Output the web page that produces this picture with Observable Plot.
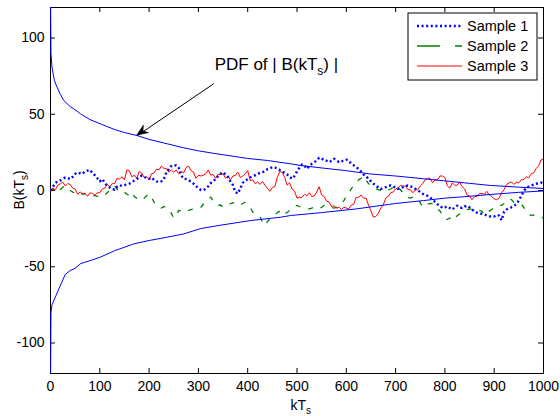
<!DOCTYPE html>
<html><head><meta charset="utf-8">
<script src="https://cdn.jsdelivr.net/npm/d3@7"></script>
<script src="https://cdn.jsdelivr.net/npm/@observablehq/plot@0.6"></script>
<style>body{margin:0;background:#fff}#chart{width:560px;height:416px}</style>
</head><body><div id="chart"></div>
<script>
// sample spacing in k (samples listed at k = 0, 5, 10, ... 1000)
const step = 5;
const sample1 = [0,2.5,5,6,6.6,7.5,8.5,8.2,7.5,9,11,10.5,11.5,11,12.5,13,13.5,11.5,10,8,6,7.5,5,3,2,1,0.5,2.5,3.5,3,3.5,4,4.5,5.5,6.5,7.5,8.5,9.8,9,8,7.7,8.5,7,6,5.4,6,7.5,12,14,16,16.8,16.4,15,10,7.7,7.5,6.8,5.8,4.5,2.8,1.8,0.3,0.2,1.2,2.8,4.8,6.2,7.5,9.5,11,12,10.5,9,6,3.5,-1,-2,1.5,5,6.5,7.5,8.5,9.5,10,11,11.5,12,12.5,14,14.5,15.3,15,14.5,13.5,12.5,11.5,10.5,9,7.7,9.5,12.5,15,17,16.5,14.2,16,17.5,18.5,19.7,21.5,21,19.7,19.5,18.6,19.5,20.8,20,18.6,19,19.7,20.2,19.5,17.5,16.5,15.5,14,12.5,10.5,9.5,7.5,6,4.5,3.2,2,1,1.8,2.2,3,3.3,2.6,2,1,1.6,2.2,2.8,3.3,2.8,2.2,1.2,0.2,-1,-2.2,-3,-3.5,-4.5,-6,-7.5,-9,-10,-11.5,-11,-10.5,-11.5,-12.5,-11,-10,-11,-11.5,-10.5,-10,-11,-12.5,-13.5,-14.5,-15,-15.3,-15.8,-16.4,-17,-16.8,-17,-16,-16.5,-19.5,-14,-12.5,-11.5,-11,-10,-9,-6.5,-3.5,-0.5,1.8,2.6,3.2,3.8,4.4,4.6,5.2,4.5];
const sample2 = [0,1,-1,-1.5,0.5,2.2,3,1,0,-1,-1.5,-0.5,-1.5,-2.5,-2,-2.5,-3,-3.5,-3.3,-3.8,-4,-4.4,-3,-1.5,0,1.5,3,1,-1,-0.5,-1,-2.5,-3,-1,-4,-5,-5.5,-6.5,-5,-3.5,-2.2,-4.5,-7.7,-10,-11,-11.5,-10.5,-11,-12,-15,-18,-17,-13,-13.5,-14.2,-14,-13,-12.5,-12,-11.5,-11.5,-11,-9,-7.5,-5.5,-4.4,-7,-9,-9.8,-9.5,-11,-10.5,-9.8,-8.7,-8,-8.7,-9.5,-9.8,-8.5,-7.7,-9,-11,-14,-15.3,-16,-17,-21,-23,-20.5,-18.5,-17.5,-16,-14.5,-13.5,-12.5,-15,-14.5,-13,-11.5,-10.5,-9.8,-10.5,-11,-11.5,-12,-12,-11.5,-11,-11.5,-12,-11,-9.8,-10.5,-11,-11,-11.5,-11,-10.5,-8.5,-6.6,-4,-1.5,1,3.5,5,7,8,9.5,7,4.5,3,2,1.1,0.5,0,0.8,1,0.3,1,2,3.3,2,0.5,-1.5,-3,-4.5,-5,-4.4,-4.4,-5.5,-8,-11,-10,-9,-8.5,-8.7,-10,-12,-13.5,-16,-18.5,-19,-18,-19.7,-18,-16.5,-15.3,-14,-13,-12.5,-12,-12.5,-12,-12.5,-13,-13.5,-16,-15,-13.5,-12.5,-11,-10.5,-9.8,-9.8,-8.5,-7,-5.4,-6,-7.7,-8,-8.7,-9,-11,-14,-15.5,-16.4,-16,-16.4,-17,-17.5,-18];
const sample3 = [0,1.5,0.5,3.5,4.4,5.5,3,4.5,4,1.5,1,-2.5,-1,-2,-2,-3.8,-1.5,-2,-3,-1.5,-1.5,1,1.5,4,2.5,4.5,4.5,8,7.5,9,7,13.5,13,9,10,8,12.5,11.5,8.5,9,7,11,11.5,14,13.5,16,14.5,14.5,12,13.5,12,13.5,11,12.5,11.5,15,16,13,12,8,10,9.5,10,11,13.5,10,10.5,8,10.5,10.5,11,8,9.5,7,9.5,10,12,8.5,9.5,11,13,6.5,7,4.5,5.5,4,6,3.5,1.5,-0.5,2,2.5,8.5,12.5,12,8.5,3.5,5,1,-0.5,-5,-4.5,-4.5,-2.5,-3.5,-1.5,-4,-3.5,-1,2.5,-3,-4,-7,-7.5,-10.5,-10,-11.5,-11,-12.5,-11,-11.5,-12,-9.5,-9,-4.5,-4.5,-3,-5,-5,-9.5,-13.5,-17.5,-17,-15,-11.5,-9.5,-5,-4,-1.5,-1,1,1.8,3.3,2.8,3,0.5,0.5,-1.5,0.3,0.5,3,4.5,7,8,8,5,7,7,9.5,9.5,8.5,3,1.5,5,3.5,3.5,5.5,2.5,1,-3,-3.5,-6,-4,-4,-2,-2,-2.5,-0.5,-3,-4,-5.5,-6,-5,-1.5,0.5,4,5,5.5,4,5.5,5,7,7.2,9,8.3,11,11.5,14.5,16,20,20.8];

// envelope of the PDF of |B(kT_s)|
const envUpperK = [0,1,3,8,13,20,27,40,47,61,80,101,130,150,176,200,237,270,300,338,370,400,440,487,507,550,600,622,650,700,757,800,850,892,950,1000];
const envUpperV = [130,90,81,72,68,63,59,55,53.6,50.3,46.5,43.7,40,38,36,33.5,30.6,28,26,24,22.5,21,19.7,17.5,16.4,14.8,13,12,10.8,9.5,7.7,6.3,4.7,3.3,2.2,1.3];
const envLowerK = [0,1,3,7,17,30,40,50,61,80,101,130,169,200,237,270,304,340,406,467,487,550,622,700,757,800,850,892,950,1000];
const envLowerV = [-130,-80,-75,-72,-64.5,-55,-52.5,-51,-48,-46,-43.7,-39.5,-35,-32.8,-30.6,-28.5,-25,-23,-19.7,-17.5,-16.4,-14.5,-12,-8.5,-6.6,-5,-3.8,-2.6,-1.2,-0.3];

const seriesNames = ["Sample 1", "Sample 2", "Sample 3"];
const seriesColors = ["#0000ff", "#008000", "#ff0000"];
const xTicks = [0,100,200,300,400,500,600,700,800,900,1000];
const yTicks = [-100,-50,0,50,100];
const annoArrow = [{k1: 331, v1: 70, k2: 176, v2: 36}];
const annoTextPos = {k: 334, v: 79};

const rows = (arr) => arr.map((v, i) => ({k: i * step, v}));
const pairRows = (ks, vs) => ks.map((k, i) => ({k, v: vs[i]}));

const W = 560, H = 416, mL = 50, mR = 17, mT = 7, mB = 43;
const fW = W - mL - mR, fH = H - mT - mB, tl = 5;
const font = "'Liberation Sans', Arial, Helvetica, sans-serif";

const plot = Plot.plot({
  width: W, height: H,
  marginLeft: mL, marginRight: mR, marginTop: mT, marginBottom: mB,
  style: {fontFamily: font, fontSize: "14px", background: "white", color: "black", overflow: "visible"},
  x: {domain: [0, 1000]},
  y: {domain: [-120, 120]},
  marks: [
    Plot.frame({stroke: "black", strokeWidth: 1}),
    Plot.tickX(xTicks, {x: d => d, insetTop: fH - tl, stroke: "black"}),
    Plot.tickX(xTicks, {x: d => d, insetBottom: fH - tl, stroke: "black"}),
    Plot.tickY(yTicks, {y: d => d, insetRight: fW - tl, stroke: "black"}),
    Plot.tickY(yTicks, {y: d => d, insetLeft: fW - tl, stroke: "black"}),
    Plot.line(rows(sample2), {x: "k", y: "v", stroke: seriesColors[1], strokeWidth: 1.3, strokeDasharray: "5,8", strokeLinecap: "butt", clip: true}),
    Plot.line(rows(sample3), {x: "k", y: "v", stroke: seriesColors[2], strokeWidth: 1, clip: true}),
    Plot.line(rows(sample1), {x: "k", y: "v", stroke: seriesColors[0], strokeWidth: 2.4, strokeDasharray: "2,2.6", strokeLinecap: "butt", clip: true}),
    Plot.line(pairRows(envUpperK, envUpperV), {x: "k", y: "v", stroke: "#0000ff", strokeWidth: 1, clip: true}),
    Plot.line(pairRows(envLowerK, envLowerV), {x: "k", y: "v", stroke: "#0000ff", strokeWidth: 1, clip: true}),
    Plot.axisX(xTicks, {tickSize: 0, tickPadding: 8, label: null, tickFormat: d => String(d), fontSize: 14}),
    Plot.axisY(yTicks, {tickSize: 0, tickPadding: 6, label: null, tickFormat: d => String(d), fontSize: 14}),
    Plot.link(annoArrow, {x1: "k1", y1: "v1", x2: "k2", y2: "v2", stroke: "black", strokeWidth: 1})
  ]
});
document.getElementById("chart").appendChild(plot);

const svg = d3.select(plot);
const sx = plot.scale("x"), sy = plot.scale("y");

// filled arrowhead at the annotation tip
{
  const a = annoArrow[0];
  const x1 = sx.apply(a.k1), y1 = sy.apply(a.v1), x2 = sx.apply(a.k2), y2 = sy.apply(a.v2);
  const ang = Math.atan2(y2 - y1, x2 - x1);
  const L = 11, Wd = 4.5, back = 7.5;
  const ux = Math.cos(ang), uy = Math.sin(ang), px = -uy, py = ux;
  const bx = x2 - ux * L, by = y2 - uy * L;
  const mx = x2 - ux * back, my = y2 - uy * back;
  svg.append("path")
    .attr("d", `M${x2},${y2}L${bx + px * Wd},${by + py * Wd}L${mx},${my}L${bx - px * Wd},${by - py * Wd}Z`)
    .attr("fill", "black").attr("stroke", "black").attr("stroke-width", 0.6);
}

// annotation text
const at = svg.append("text")
  .attr("x", sx.apply(annoTextPos.k)).attr("y", sy.apply(annoTextPos.v))
  .attr("text-anchor", "start")
  .attr("font-family", font).attr("font-size", 17).attr("fill", "black");
at.append("tspan").text("PDF of | B(kT");
at.append("tspan").attr("dy", 5).attr("font-size", 12).text("s");
at.append("tspan").attr("dy", -5).text(") |");

// x axis label
const xl = svg.append("text")
  .attr("x", sx.apply(500) - 6).attr("y", 410).attr("text-anchor", "start")
  .attr("font-family", font).attr("font-size", 14).attr("fill", "black");
xl.append("tspan").text("kT");
xl.append("tspan").attr("dy", 4).attr("font-size", 10).text("s");

// y axis label
const yl = svg.append("text")
  .attr("transform", `translate(24,${sy.apply(0)}) rotate(-90)`).attr("text-anchor", "middle")
  .attr("font-family", font).attr("font-size", 14).attr("fill", "black");
yl.append("tspan").text("B(kT");
yl.append("tspan").attr("dy", 4).attr("font-size", 10).text("s");
yl.append("tspan").attr("dy", -4).text(")");

// legend
const lg = svg.append("g");
lg.append("rect").attr("x", 408).attr("y", 13).attr("width", 129).attr("height", 67)
  .attr("fill", "white").attr("stroke", "black").attr("stroke-width", 1);
const dashes = ["2,2.6", "23,15", null];
const widths = [2.4, 1.3, 1];
seriesNames.forEach((name, i) => {
  const y = 26 + i * 20;
  const ln = lg.append("line").attr("x1", 417).attr("x2", 462).attr("y1", y).attr("y2", y)
    .attr("stroke", seriesColors[i]).attr("stroke-width", widths[i]).attr("stroke-linecap", "butt");
  if (dashes[i]) ln.attr("stroke-dasharray", dashes[i]);
  lg.append("text").attr("x", 467).attr("y", y).attr("dy", "0.35em").attr("text-anchor", "start")
    .attr("font-family", font).attr("font-size", 14.5).attr("fill", "black").text(name);
});
</script></body></html>
